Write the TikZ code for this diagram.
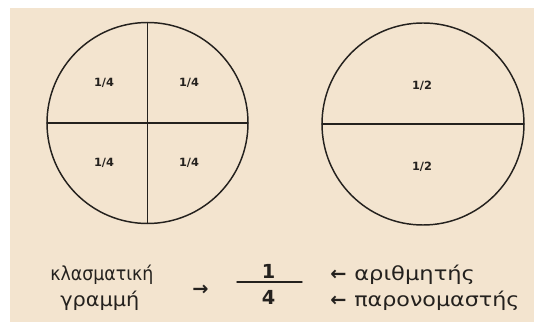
\documentclass[tikz,border=0pt]{standalone}
\usepackage{fontspec}
\usepackage{graphicx}
\setmainfont{DejaVu Sans}
\usetikzlibrary{positioning}

\begin{document}
\begin{tikzpicture}[x=0.75pt,y=-0.75pt,line cap=round,line join=round]
\definecolor{paper}{HTML}{F3E4CF}
\definecolor{ink}{HTML}{24211E}
\tikzset{
  rim/.style={ink,line width=1.1},
  piece/.style={font=\bfseries\fontsize{8.5}{10}\selectfont,text=ink,inner sep=0pt},
  word/.style={font=\fontsize{14.5}{16}\selectfont,text=ink,inner sep=0pt,anchor=base west},
  digit/.style={font=\fontsize{14.5}{16}\selectfont,text=ink,inner sep=0pt,anchor=base}
}
\useasboundingbox (0,0) rectangle (534,327);
\fill[paper] (10,8) rectangle (534,322);

% left circle in quarters
\draw[rim] (147.5,123) circle [radius=100.5];
\draw[rim] (147.5,22.5) -- (147.5,223.5)
  (47,123) -- (248,123);
\foreach \x/\y/\n in {104/83/a,189/83/b,104/163/c,189/163/d}
  \node[piece] (q\n) at (\x,\y) {1/4};

% right circle in halves
\draw[rim] (423,124) circle [radius=101];
\draw[rim] (322,124) -- (524,124);
\node[piece] (htop) at (422,86) {1/2};
\node[piece] (hbot) at (422,167) {1/2};

% the fraction and its parts
\node[word] (lineA) at (50,280) {\scalebox{0.9}[1]{κλασματική}};
\node[word] (lineB) at (60,306) {\scalebox{1.08}[1]{γραμμή}};
\node[word] (toline) at (192,295) {\bfseries →};
\coordinate (barL) at (237,282);
\coordinate (barR) at (302,282);
\draw[rim] (barL) -- (barR);
\node[digit] (num) at (268.5,278) {\bfseries 1};
\node[digit] (den) at (268.5,304.5) {\bfseries 4};
\node[word] (arrA) at (330,280) {\bfseries ←};
\node[word] (arrB) at (330,306) {\bfseries ←};
\node[word] (numword) at (354,280) {\scalebox{1.17}[1]{αριθμητής}};
\node[word] (denword) at (354,306) {\scalebox{1.15}[1]{παρονομαστής}};
\end{tikzpicture}
\end{document}
